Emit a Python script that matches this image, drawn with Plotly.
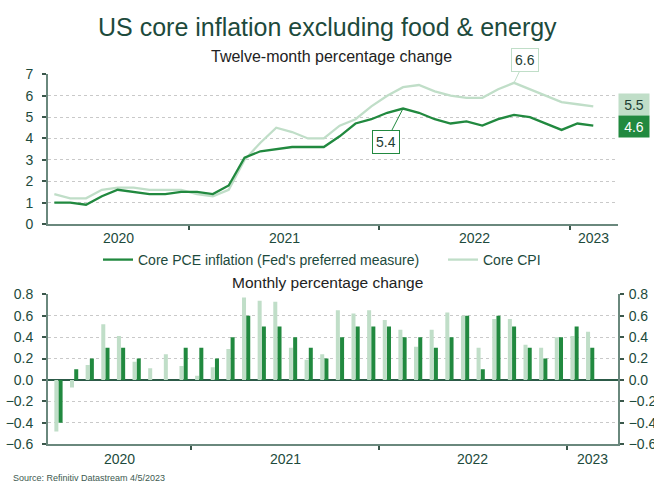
import plotly.graph_objects as go

# ---------------- data ----------------
months = ["2020-04", "2020-05", "2020-06", "2020-07", "2020-08", "2020-09", "2020-10", "2020-11", "2020-12",
          "2021-01", "2021-02", "2021-03", "2021-04", "2021-05", "2021-06", "2021-07", "2021-08", "2021-09",
          "2021-10", "2021-11", "2021-12",
          "2022-01", "2022-02", "2022-03", "2022-04", "2022-05", "2022-06", "2022-07", "2022-08", "2022-09",
          "2022-10", "2022-11", "2022-12",
          "2023-01", "2023-02"]

pce_yoy = [1.0, 1.0, 0.9, 1.3, 1.6, 1.5, 1.4, 1.4, 1.5,
           1.5, 1.4, 1.8, 3.1, 3.4, 3.5, 3.6, 3.6, 3.6, 4.1, 4.7, 4.9,
           5.2, 5.4, 5.2, 4.9, 4.7, 4.8, 4.6, 4.9, 5.1, 5.0, 4.7, 4.4,
           4.7, 4.6]
cpi_yoy = [1.4, 1.2, 1.2, 1.6, 1.7, 1.7, 1.6, 1.6, 1.6,
           1.4, 1.3, 1.6, 3.0, 3.8, 4.5, 4.3, 4.0, 4.0, 4.6, 4.9, 5.5,
           6.0, 6.4, 6.5, 6.2, 6.0, 5.9, 5.9, 6.3, 6.6, 6.3, 6.0, 5.7,
           5.6, 5.5]

cpi_mom = [-0.48, -0.07, 0.14, 0.52, 0.41, 0.17, 0.11, 0.24, 0.13,
           0.04, 0.12, 0.29, 0.77, 0.74, 0.73, 0.30, 0.19, 0.24, 0.65, 0.62, 0.65,
           0.56, 0.47, 0.31, 0.47, 0.63, 0.60, 0.30, 0.57, 0.57, 0.33, 0.30, 0.40,
           0.41, 0.45]
pce_mom = [-0.4, 0.1, 0.2, 0.3, 0.3, 0.2, 0.0, 0.0, 0.3,
           0.3, 0.2, 0.4, 0.6, 0.5, 0.5, 0.4, 0.3, 0.2, 0.4, 0.5, 0.5,
           0.5, 0.4, 0.4, 0.3, 0.4, 0.6, 0.1, 0.6, 0.5, 0.3, 0.2, 0.4,
           0.5, 0.3]

years = ["2020", "2021", "2022", "2023"]
pce_name = "Core PCE inflation (Fed's preferred measure)"
cpi_name = "Core CPI"

# ---------------- style ----------------
DARK = "#21893f"
LIGHT = "#c0dec8"
TXT = "#1d4a3c"
AXC = "#6a887d"
TKC = "#3a574b"
GRID = "#c9c9c9"
FONT = "Liberation Sans, Arial, sans-serif"

idx = list(range(len(months)))
W, H = 654, 482
L, R = 48, 36
PW = W - L - R

top_range = [-0.40, 35.56]
bot_range = [-0.67, 35.78]

# year boundaries (between December and January)
bounds = [i - 0.5 for i, m in enumerate(months) if m.endswith("-01")]


def year_centers(rng):
    edges = [rng[0]] + bounds + [rng[1]]
    return [(edges[k] + edges[k + 1]) / 2 for k in range(len(years))]


def py(px):
    return 1 - px / H


def pxx(px):
    return (px - L) / PW


fig = go.Figure()

fig.add_trace(go.Scatter(x=idx, y=cpi_yoy, mode="lines", name=cpi_name,
                         line=dict(color=LIGHT, width=2.3), xaxis="x", yaxis="y",
                         legend="legend2"))
fig.add_trace(go.Scatter(x=idx, y=pce_yoy, mode="lines", name=pce_name,
                         line=dict(color=DARK, width=2.3), xaxis="x", yaxis="y",
                         legend="legend"))

fig.add_trace(go.Bar(x=idx, y=cpi_mom, marker=dict(color=LIGHT, line=dict(width=0)),
                     xaxis="x2", yaxis="y2", showlegend=False, name=cpi_name))
fig.add_trace(go.Bar(x=idx, y=pce_mom, marker=dict(color=DARK, line=dict(width=0)),
                     xaxis="x2", yaxis="y2", showlegend=False, name=pce_name))
# invisible trace to activate right axis
fig.add_trace(go.Scatter(x=[idx[0]], y=[None], xaxis="x2", yaxis="y3",
                         showlegend=False, hoverinfo="skip"))

tickfont = dict(family=FONT, size=14, color=TXT)
legfont = dict(family=FONT, size=14, color=TXT)

xcommon = dict(showgrid=False, zeroline=False, showline=True, linecolor=AXC, linewidth=1.8,
               ticks="outside", ticklen=4, tickcolor=TKC, tickwidth=1.5, automargin=False,
               tickvals=bounds, ticktext=["" for _ in bounds], fixedrange=True)

fig.update_layout(
    template="none",
    width=W, height=H,
    margin=dict(l=L, r=R, t=0, b=0, pad=0, autoexpand=False),
    paper_bgcolor="white", plot_bgcolor="white",
    font=dict(family=FONT, color=TXT),
    barmode="group", bargap=0.46, bargroupgap=0.05,
    showlegend=True,
    legend=dict(orientation="h", x=pxx(98), xanchor="left", y=py(260), yanchor="middle",
                font=legfont, bgcolor="rgba(0,0,0,0)", itemclick=False, itemdoubleclick=False),
    legend2=dict(orientation="h", x=pxx(443), xanchor="left", y=py(260), yanchor="middle",
                 font=legfont, bgcolor="rgba(0,0,0,0)", itemclick=False, itemdoubleclick=False),
    xaxis=dict(domain=[0, 1], anchor="y", range=top_range, **xcommon),
    yaxis=dict(domain=[py(224), py(74.3)], range=[0, 7], dtick=1,
               showline=True, linecolor=AXC, linewidth=1.8, automargin=False,
               ticks="outside", ticklen=4, tickcolor=TKC, tickwidth=1.5,
               showgrid=True, gridcolor=GRID, griddash="dot", gridwidth=1,
               zeroline=False, tickfont=tickfont, ticklabelstandoff=6, fixedrange=True),
    xaxis2=dict(domain=[0, 1], anchor="y2", range=bot_range, **xcommon),
    yaxis2=dict(domain=[py(444.3), py(294.3)], range=[-0.6, 0.8], dtick=0.2, tick0=0,
                tickformat=".1f", automargin=False,
                showline=True, linecolor=AXC, linewidth=1.8,
                ticks="outside", ticklen=4, tickcolor=TKC, tickwidth=1.5,
                showgrid=True, gridcolor=GRID, griddash="dot", gridwidth=1,
                zeroline=True, zerolinecolor="#2c5a47", zerolinewidth=1.5,
                tickfont=tickfont, ticklabelstandoff=6, fixedrange=True),
    yaxis3=dict(overlaying="y2", anchor="x2", side="right", range=[-0.6, 0.8], dtick=0.2, tick0=0,
                tickformat=".1f", automargin=False,
                showline=True, linecolor=AXC, linewidth=1.8,
                ticks="outside", ticklen=4, tickcolor=TKC, tickwidth=1.5,
                showgrid=False, zeroline=False, tickfont=tickfont, ticklabelstandoff=2,
                fixedrange=True),
)

ann = []
# titles
ann.append(dict(text="US core inflation excluding food &amp; energy", xref="paper", yref="paper",
                x=pxx(327), y=py(26.5), xanchor="center", yanchor="middle",
                showarrow=False, font=dict(family=FONT, size=25, color=TXT)))
ann.append(dict(text="Twelve-month percentage change", xref="paper", yref="paper",
                x=pxx(331), y=py(56), xanchor="center", yanchor="middle",
                showarrow=False, font=dict(family=FONT, size=16, color="#222")))
ann.append(dict(text="Monthly percentage change", xref="paper", yref="paper",
                x=pxx(327), y=py(282), xanchor="center", yanchor="middle",
                showarrow=False, font=dict(family=FONT, size=15.5, color="#222")))
ann.append(dict(text="Source: Refinitiv Datastream 4/5/2023", xref="paper", yref="paper",
                x=pxx(11), y=py(478), xanchor="left", yanchor="middle",
                showarrow=False, font=dict(family=FONT, size=9, color="#3d5a50")))

# year labels
for yr, xc in zip(years, year_centers(top_range)):
    ann.append(dict(text=yr, xref="x", yref="paper", x=xc, y=py(237.7),
                    xanchor="center", yanchor="middle", showarrow=False, font=tickfont))
for yr, xc in zip(years, year_centers(bot_range)):
    ann.append(dict(text=yr, xref="x2", yref="paper", x=xc, y=py(459),
                    xanchor="center", yanchor="middle", showarrow=False, font=tickfont))

# callouts
i_cpi_max = cpi_yoy.index(max(cpi_yoy))
i_pce_max = pce_yoy.index(max(pce_yoy))
ann.append(dict(text=f"{cpi_yoy[i_cpi_max]:.1f}", xref="x", yref="y", x=i_cpi_max, y=cpi_yoy[i_cpi_max],
                ax=11, ay=-23, showarrow=True, arrowhead=0, arrowwidth=1, arrowcolor=LIGHT,
                bordercolor=LIGHT, borderwidth=1, borderpad=3, bgcolor="white",
                font=dict(family=FONT, size=14, color="#1d3d33")))
ann.append(dict(text=f"{pce_yoy[i_pce_max]:.1f}", xref="x", yref="y", x=i_pce_max, y=pce_yoy[i_pce_max],
                ax=-17, ay=33, showarrow=True, arrowhead=0, arrowwidth=1, arrowcolor=DARK,
                bordercolor=DARK, borderwidth=1, borderpad=3, bgcolor="white",
                font=dict(family=FONT, size=14, color="#1d3d33")))

# end labels
ann.append(dict(text=f"{cpi_yoy[-1]:.1f}", xref="paper", yref="y", x=1, y=cpi_yoy[-1],
                xanchor="left", yanchor="middle", yshift=1.5, showarrow=False,
                bgcolor=LIGHT, borderpad=4, width=22, height=13,
                font=dict(family=FONT, size=14, color="#1d3d33")))
ann.append(dict(text=f"{pce_yoy[-1]:.1f}", xref="paper", yref="y", x=1, y=pce_yoy[-1],
                xanchor="left", yanchor="middle", yshift=-1.3, showarrow=False,
                bgcolor=DARK, borderpad=4, width=22, height=13,
                font=dict(family=FONT, size=14, color="white")))

fig.update_layout(annotations=ann)

fig.write_html("out.html", config={"displayModeBar": False},
               post_script="document.body.style.margin='0px';")
